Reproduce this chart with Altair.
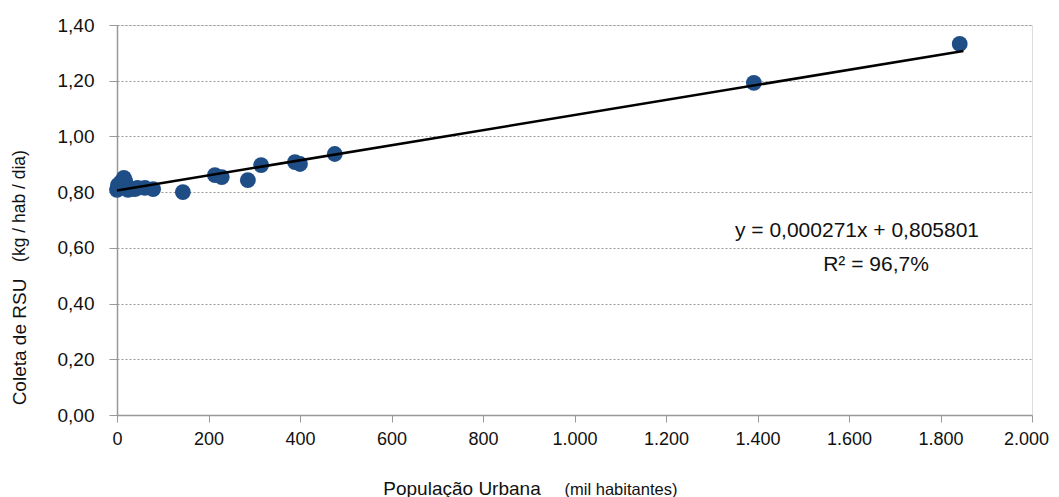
import altair as alt
import pandas as pd

populacao = [0, 2, 5, 8, 15, 18, 24, 30, 39, 45, 61, 79,
             144, 214, 229, 286, 315, 389, 400, 476, 1392, 1842]
coleta = [0.808, 0.825, 0.818, 0.835, 0.851, 0.840, 0.808, 0.812, 0.811, 0.815, 0.815, 0.811,
          0.800, 0.861, 0.854, 0.843, 0.897, 0.908, 0.901, 0.937, 1.192, 1.332]

# trend line as drawn
linha_x = [0, 1850]
linha_y = [0.806, 1.307]

x_ticks = list(range(0, 2001, 200))
y_ticks = [0.0, 0.2, 0.4, 0.6, 0.8, 1.0, 1.2, 1.4]
equacao = "y = 0,000271x + 0,805801"
r2 = "R² = 96,7%"

df = pd.DataFrame({"pop": populacao, "coleta": coleta})
df_linha = pd.DataFrame({"pop": linha_x, "coleta": linha_y})
FONT = "Liberation Sans"

x_enc = alt.X("pop:Q",
              scale=alt.Scale(domain=[0, 2000], nice=False),
              axis=alt.Axis(values=x_ticks, title=None, grid=False, labelFlush=False,
                            labelExpr="replace(format(datum.value, ',.0f'), ',', '.')",
                            labelOffset={"condition": {"test": "datum.value === 2000", "value": -6},
                                         "value": 0},
                            labelFont=FONT, labelFontSize=18, labelColor="#111",
                            labelPadding=8, tickSize=7, tickColor="#999",
                            domainColor="#999", domainWidth=1.5))
y_enc = alt.Y("coleta:Q",
              scale=alt.Scale(domain=[0, 1.4], nice=False),
              axis=alt.Axis(values=y_ticks, title=None, grid=True,
                            gridDash=[2, 2], gridColor="#9a9a9a", gridWidth=1,
                            labelExpr="replace(format(datum.value, '.2f'), '.', ',')",
                            labelFont=FONT, labelFontSize=19, labelColor="#111",
                            labelPadding=15, tickSize=8, tickColor="#999",
                            domainColor="#999", domainWidth=1.5))

pts = alt.Chart(df).mark_circle(size=250, opacity=1, color="#1f4e86").encode(x=x_enc, y=y_enc)

line = alt.Chart(df_linha).mark_line(color="black", strokeWidth=2.5).encode(
    x="pop:Q", y="coleta:Q")

def txt(s, x, y, size, angle=0):
    return alt.Chart(pd.DataFrame({"t": [s]})).mark_text(
        font=FONT, fontSize=size, color="#111", angle=angle, align="center", baseline="middle"
    ).encode(x=alt.value(x), y=alt.value(y), text="t:N")

chart = alt.layer(
    pts, line,
    txt(equacao, 740, 206, 21),
    txt(r2, 759, 240, 21),
    txt("População Urbana", 345, 464, 19),
    txt("(mil habitantes)", 504, 465, 16.5),
    txt("Coleta de RSU", -97, 317, 19, 270),
    txt("(kg / hab / dia)", -97, 181, 17.5, 270),
).properties(
    width=915, height=390,
    autosize=alt.AutoSizeParams(type="none"),
    padding={"left": 109, "top": 17, "right": 19, "bottom": 90},
).configure_view(
    fill="#e9f1fb", stroke="#b0b0b0", strokeWidth=1.5
).configure(background="white")

chart.save("out.html", embed_options={"renderer": "svg", "actions": False})
